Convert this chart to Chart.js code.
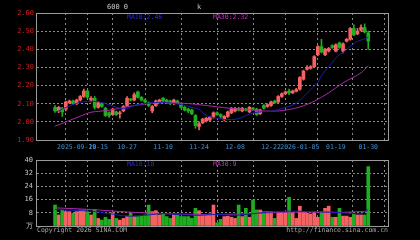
<!DOCTYPE html>
<html><head><meta charset="utf-8">
<script src="https://cdn.jsdelivr.net/npm/chart.js@4/dist/chart.umd.min.js"></script>
<style>
html,body{margin:0;padding:0;background:#000;width:420px;height:240px;overflow:hidden}
#wrap{position:relative;width:420px;height:240px;background:#000}
canvas{position:absolute;left:0;top:0}
.t{position:absolute;font-family:'DejaVu Sans Mono',monospace;font-size:6.5px;line-height:7px;white-space:nowrap}
</style></head><body>
<div id="wrap">
<canvas id="pc" width="420" height="240"></canvas>
<canvas id="vc" width="420" height="240"></canvas>
<div class="t" style="left:107px;top:4px;color:#c8c8c8;font-size:7px">600 0</div>
<div class="t" style="left:197px;top:4px;color:#c8c8c8;font-size:7px">k</div>
<div class="t" style="left:127px;top:13.5px;color:#2b2bd0">MA10:2.46</div>
<div class="t" style="left:213px;top:13.5px;color:#c030c0">MA30:2.32</div>
<div class="t" style="left:127px;top:161px;color:#2b2bd0">MA10:10</div>
<div class="t" style="left:213px;top:161px;color:#c030c0">MA30:9</div>
<div class="t" style="left:37px;top:226.5px;color:#a8a8a8">Copyright 2026 SINA.COM</div>
<div class="t" style="right:32px;top:226.5px;color:#a8a8a8">http://finance.sina.com.cn</div>
</div>
<script>
// ---- data ----
const dates = ['2025-09-19','09-22','09-23','09-24','09-25','09-26','09-29','09-30',
'10-09','10-10','10-13','10-14','10-15','10-16','10-17','10-20','10-21','10-22','10-23','10-24','10-27','10-28','10-29','10-30','10-31',
'11-03','11-04','11-05','11-06','11-07','11-10','11-11','11-12','11-13','11-14','11-17','11-18','11-19','11-20','11-21','11-24','11-25','11-26','11-27','11-28',
'12-01','12-02','12-03','12-04','12-05','12-08','12-09','12-10','12-11','12-12','12-15','12-16','12-17','12-18','12-19','12-22','12-23','12-24','12-25','12-26','12-29','12-30','12-31',
'2026-01-05','01-06','01-07','01-08','01-09','01-12','01-13','01-14','01-15','01-16','01-19','01-20','01-21','01-22','01-23','01-26','01-27','01-28','01-29','01-30'];

const open  = [2.08,2.06,2.075,2.07,2.105,2.115,2.10,2.12,2.14,2.17,2.12,2.13,2.08,2.10,2.075,2.05,2.04,2.055,2.045,2.06,
2.09,2.125,2.12,2.165,2.135,2.12,2.105,2.06,2.09,2.11,2.13,2.12,2.115,2.10,2.115,2.10,2.08,2.07,2.065,2.035,
1.975,1.995,2.005,2.01,2.025,2.05,2.04,2.015,2.03,2.05,2.06,2.075,2.06,2.07,2.055,2.075,2.07,2.045,2.09,2.085,
2.09,2.115,2.11,2.14,2.155,2.17,2.16,2.168,2.18,2.235,2.29,2.295,2.305,2.37,2.415,2.37,2.39,2.42,2.39,2.435,
2.39,2.445,2.455,2.515,2.485,2.505,2.52,2.49];
const high  = [2.09,2.085,2.08,2.115,2.12,2.12,2.125,2.145,2.18,2.175,2.14,2.14,2.11,2.105,2.08,2.055,2.075,2.06,2.06,2.09,
2.14,2.13,2.16,2.17,2.14,2.125,2.11,2.09,2.12,2.125,2.135,2.125,2.12,2.125,2.12,2.105,2.085,2.075,2.07,2.04,
2.00,2.02,2.025,2.03,2.055,2.055,2.045,2.035,2.06,2.08,2.08,2.08,2.08,2.075,2.085,2.08,2.075,2.07,2.095,2.10,
2.115,2.12,2.145,2.16,2.17,2.18,2.175,2.185,2.25,2.285,2.31,2.31,2.365,2.42,2.455,2.405,2.41,2.425,2.43,2.44,
2.435,2.46,2.52,2.535,2.515,2.535,2.54,2.50];
const low   = [2.05,2.05,2.03,2.06,2.10,2.095,2.095,2.115,2.135,2.13,2.11,2.07,2.075,2.08,2.03,2.025,2.035,2.035,2.02,2.055,
2.085,2.115,2.115,2.13,2.115,2.105,2.085,2.05,2.085,2.105,2.11,2.10,2.095,2.095,2.10,2.075,2.06,2.05,2.04,1.965,
1.955,1.99,2.00,2.005,2.02,2.035,2.02,2.005,2.025,2.045,2.055,2.06,2.055,2.06,2.05,2.065,2.035,2.04,2.07,2.08,
2.085,2.10,2.105,2.135,2.15,2.15,2.155,2.165,2.175,2.23,2.285,2.29,2.30,2.365,2.38,2.365,2.385,2.405,2.385,2.405,
2.38,2.44,2.45,2.475,2.48,2.50,2.49,2.40];
const close = [2.06,2.08,2.055,2.11,2.115,2.10,2.12,2.14,2.17,2.135,2.13,2.08,2.105,2.085,2.035,2.035,2.07,2.04,2.05,2.085,
2.13,2.12,2.15,2.135,2.12,2.11,2.09,2.085,2.115,2.12,2.115,2.105,2.10,2.12,2.105,2.08,2.065,2.06,2.045,1.98,
1.99,2.015,2.02,2.025,2.05,2.04,2.03,2.03,2.055,2.075,2.075,2.065,2.075,2.065,2.08,2.07,2.04,2.065,2.075,2.095,
2.11,2.105,2.14,2.155,2.165,2.16,2.17,2.178,2.245,2.28,2.30,2.305,2.36,2.415,2.385,2.40,2.405,2.41,2.425,2.41,
2.43,2.455,2.515,2.48,2.50,2.52,2.495,2.445];
const volume = [12.7,6.7,9.7,8.7,8.7,7.7,8.7,9.7,9.7,8.7,6.7,10,4.6,3.6,5.3,4,8,4.6,3.6,4.6,
6,7.7,5.7,5.7,6,6.7,12.7,8.7,9.3,6.7,7.3,5.7,4.6,6.7,6.7,5.7,5.7,5.7,4.6,10.7,
9.3,6.7,6.7,7.3,12.7,2,4,5.7,6,5.3,4.6,12.7,5.7,10.7,5.3,15.8,9.7,9.7,8.7,8.7,
8.7,4.6,8,8,8,17.4,8,4.6,12,8.7,7.7,7.3,8.7,5.3,8.7,10.7,12,5.3,5.3,10.7,
6,6,5.3,7.3,6.7,6.7,6.7,36];

// moving averages (index, value)
const ma10Idx = [0,3,5,7,9,12,14,16,18,20,21,23,25,28,31,33,35,37,40,42,44,47,49,51,53,55,58,60,62,64,66,68,70,73,74,76,79,80,82,84,87];
const ma10    = [2.051,2.079,2.096,2.107,2.112,2.112,2.101,2.088,2.074,2.074,2.082,2.096,2.101,2.107,2.107,2.101,2.096,2.085,2.068,2.035,2.024,2.013,2.013,2.018,2.035,2.049,2.057,2.057,2.068,2.079,2.092,2.118,2.158,2.217,2.255,2.305,2.371,2.382,2.415,2.443,2.465];
const ma30Idx = [0,7,10,15,20,24,28,32,37,42,48,53,58,62,65,68,72,76,80,85,87];
const ma30    = [1.976,2.031,2.053,2.064,2.083,2.096,2.105,2.105,2.101,2.090,2.076,2.068,2.060,2.060,2.068,2.082,2.114,2.160,2.215,2.270,2.311];
const vma10Idx = [0,5,10,15,20,25,30,35,40,45,50,55,60,65,70,75,80,85,87];
const vma10    = [10,9.5,9,7.5,6,6.5,7.5,6.8,6.5,7,6.5,7.5,8.5,9,8.8,8.5,8,7.5,10];
const vma30Idx = [0,10,20,30,40,50,60,70,80,87];
const vma30    = [11,10,8.5,7.5,7,7.2,8,8.5,8.3,9];

const tickLabels = ['2025-09-29','10-15','10-27','11-10','11-24','12-08','12-22','2026-01-05','01-19','01-30'];
const priceTicks = [1.9,2.0,2.1,2.2,2.3,2.4,2.5,2.6];
const volTicks = [0,8,16,24,32,40];

// ---- build ----
const RED='#f46262', GREEN='#1fae1f', BLUE='#1c1cb0', MAG='#a82aa8';
const tickIdx = tickLabels.map(l => dates.findIndex(d => d.slice(-5) === l.slice(-5)));
const cols = close.map((c,i)=> c>=open[i] ? RED : GREEN);
const wick = low.map((l,i)=>({x:i,y:[l,high[i]]}));
const body = open.map((o,i)=>({x:i,y:[o,close[i]]}));
const pts = (idx,v)=> idx.map((x,k)=>({x:x,y:v[k]}));

const frame = {id:'frame', afterDatasetsDraw(ch){
  const a=ch.chartArea, c=ch.ctx; c.save(); c.strokeStyle='#9a9a9a'; c.lineWidth=1;
  c.strokeRect(a.left-0.5,a.top+0.5,a.right-a.left,a.bottom-a.top); c.restore();}};
const xlab = {id:'xlab', afterDraw(ch){
  const c=ch.ctx, xs=ch.scales.x, a=ch.chartArea; c.save();
  c.font='6.5px "DejaVu Sans Mono", monospace'; c.fillStyle='#3d8fd6'; c.textAlign='center'; c.textBaseline='middle';
  tickIdx.forEach((ix,k)=>{ let px=xs.getPixelForValue(ix); const w=c.measureText(tickLabels[k]).width;
    if(px+w/2>a.right-6) px=a.right-6-w/2; c.fillText(tickLabels[k],px,147.5);});
  c.restore();}};

function xScale(){ return {type:'linear',min:-0.125,max:87.875,
  afterBuildTicks:s=>{s.ticks=tickIdx.map(v=>({value:v}));},
  afterFit:s=>{s.height=0;},
  ticks:{display:false}, border:{display:false,dash:[2,3]},
  grid:{color:'#8a8a8a',drawTicks:false,lineWidth:1}};}

Chart.defaults.font.family='"DejaVu Sans Mono", monospace';
new Chart(document.getElementById('pc'),{
  type:'bar',
  data:{datasets:[
    {type:'line',data:pts(ma10Idx,ma10),borderColor:BLUE,borderWidth:1,pointRadius:0,tension:0.3,order:0},
    {type:'line',data:pts(ma30Idx,ma30),borderColor:MAG,borderWidth:1,pointRadius:0,tension:0.3,order:0},
    {type:'bar',data:body,backgroundColor:cols,barThickness:3,grouped:false,minBarLength:1,order:1},
    {type:'bar',data:wick,backgroundColor:cols,barThickness:1,grouped:false,order:2}
  ]},
  options:{responsive:false,animation:false,events:[],
    layout:{padding:{left:0,right:31,top:13,bottom:100}},
    plugins:{legend:{display:false},tooltip:{enabled:false}},
    scales:{x:xScale(),
      y:{min:1.9,max:2.6,afterBuildTicks:s=>{s.ticks=priceTicks.map(v=>({value:v}));},
        afterFit:s=>{s.width=37;},
        ticks:{color:'#d01e1e',padding:3,font:{size:7},callback:v=>v.toFixed(2)},
        border:{display:false,dash:[2,2]},
        grid:{drawTicks:false,color:c=>(c.tick&&(c.tick.value<=1.9||c.tick.value>=2.6))?'rgba(0,0,0,0)':'#8a8a8a'}}}
  },
  plugins:[frame,xlab]
});

new Chart(document.getElementById('vc'),{
  type:'bar',
  data:{datasets:[
    {type:'line',data:pts(vma10Idx,vma10),borderColor:BLUE,borderWidth:1,pointRadius:0,tension:0.3,order:0},
    {type:'line',data:pts(vma30Idx,vma30),borderColor:MAG,borderWidth:1,pointRadius:0,tension:0.3,order:0},
    {type:'bar',data:volume.map((v,i)=>({x:i,y:v})),backgroundColor:cols,barThickness:3,grouped:false,order:1}
  ]},
  options:{responsive:false,animation:false,events:[],
    layout:{padding:{left:0,right:31,top:160,bottom:14}},
    plugins:{legend:{display:false},tooltip:{enabled:false}},
    scales:{x:xScale(),
      y:{min:0,max:40,afterBuildTicks:s=>{s.ticks=volTicks.map(v=>({value:v}));},
        afterFit:s=>{s.width=37;},
        ticks:{color:'#c8c8c8',padding:4,font:{size:7},callback:v=>v===0?'万':String(v)},
        border:{display:false,dash:[2,2]},
        grid:{drawTicks:false,color:c=>(c.tick&&(c.tick.value<=0||c.tick.value>=40))?'rgba(0,0,0,0)':'#8a8a8a'}}}
  },
  plugins:[frame]
});
</script>
</body></html>
